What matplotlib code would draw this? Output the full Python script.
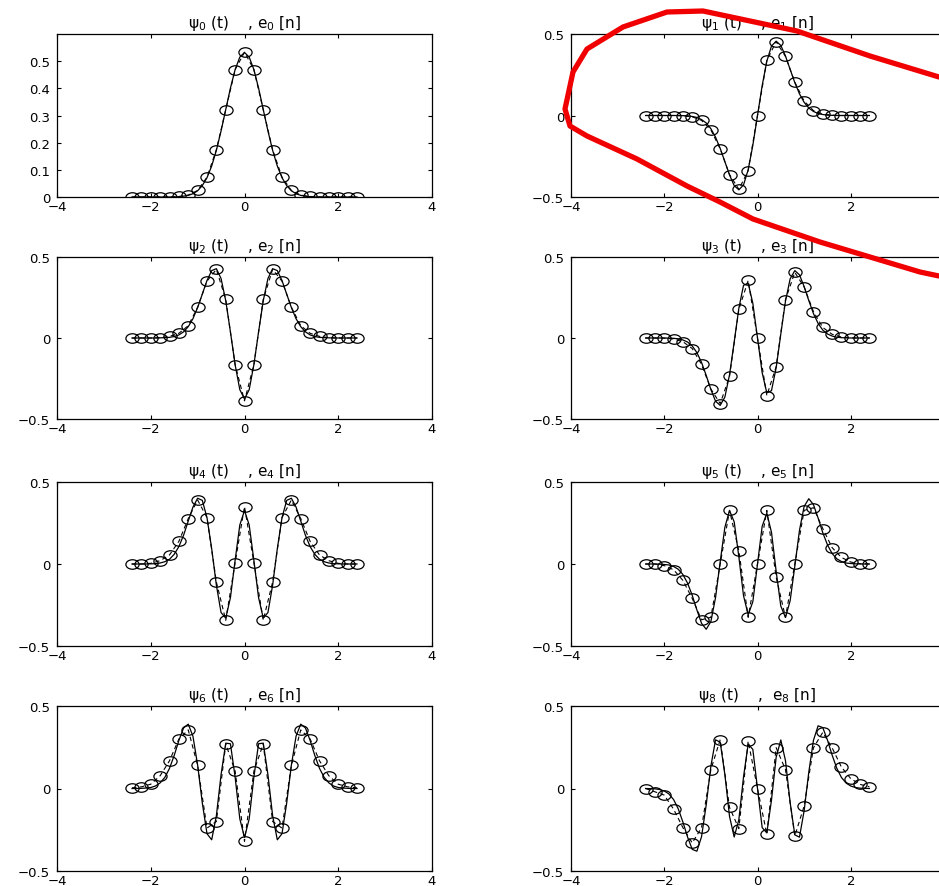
import numpy as np
import matplotlib
matplotlib.use("Agg")
import matplotlib.pyplot as plt
from matplotlib.path import Path
from matplotlib.lines import Line2D

# ==========================================
# DATA
# ==========================================
# continuous Hermite functions, t = -2.4 .. 2.4 step 0.1
t_cont = np.round(np.arange(-24, 25) * 0.1, 2)
# discrete samples e_k[n], t = -2.4 .. 2.4 step 0.2
t_disc = np.round(np.arange(-12, 13) * 0.2, 2)

psi0 = [0, 0, 0, 0, 0, 0, 0, 0, 0, 0, 0.001, 0.003, 0.006, 0.012, 0.023, 0.042, 0.071, 0.114, 0.172, 0.243, 0.322, 0.401, 0.469, 0.515,
        0.532,
        0.515, 0.469, 0.401, 0.322, 0.243, 0.172, 0.114, 0.071, 0.042, 0.023, 0.012, 0.006, 0.003, 0.001, 0, 0, 0, 0, 0, 0, 0, 0, 0, 0]
psi1 = [0, 0, 0, 0, 0, 0, 0, 0, -0.001, -0.002, -0.006, -0.012, -0.025, -0.046, -0.081, -0.133, -0.202, -0.283, -0.365, -0.430, -0.456, -0.426, -0.333, -0.183,
        0,
        0.183, 0.333, 0.426, 0.456, 0.430, 0.365, 0.283, 0.202, 0.133, 0.081, 0.046, 0.025, 0.012, 0.006, 0.002, 0.001, 0, 0, 0, 0, 0, 0, 0, 0]
psi2 = [0, 0, 0, 0, 0, 0, 0.001, 0.002, 0.004, 0.009, 0.019, 0.038, 0.070, 0.119, 0.188, 0.271, 0.355, 0.416, 0.428, 0.367, 0.230, 0.037, -0.165, -0.319,
        -0.376,
        -0.319, -0.165, 0.037, 0.230, 0.367, 0.428, 0.416, 0.355, 0.271, 0.188, 0.119, 0.070, 0.038, 0.019, 0.009, 0.004, 0.002, 0.001, 0, 0, 0, 0, 0, 0]
psi3 = [0, 0, 0, 0, 0, -0.001, -0.002, -0.005, -0.012, -0.025, -0.049, -0.090, -0.151, -0.231, -0.318, -0.390, -0.416, -0.365, -0.227, -0.025, 0.184, 0.325, 0.339, 0.214,
        0,
        -0.214, -0.339, -0.325, -0.184, 0.025, 0.227, 0.365, 0.416, 0.390, 0.318, 0.231, 0.151, 0.090, 0.049, 0.025, 0.012, 0.005, 0.002, 0.001, 0, 0, 0, 0, 0]
psi4 = [0, 0, 0, 0, 0.001, 0.002, 0.006, 0.014, 0.029, 0.059, 0.106, 0.175, 0.262, 0.347, 0.401, 0.388, 0.282, 0.093, -0.129, -0.296, -0.330, -0.205, 0.023, 0.238,
        0.326,
        0.238, 0.023, -0.205, -0.330, -0.296, -0.129, 0.093, 0.282, 0.388, 0.401, 0.347, 0.262, 0.175, 0.106, 0.059, 0.029, 0.014, 0.006, 0.002, 0.001, 0, 0, 0, 0]
psi5 = [0, 0, 0, -0.001, -0.003, -0.006, -0.015, -0.032, -0.064, -0.117, -0.191, -0.280, -0.362, -0.398, -0.351, -0.205, 0.014, 0.224, 0.326, 0.257, 0.044, -0.193, -0.310, -0.230,
        0,
        0.230, 0.310, 0.193, -0.044, -0.257, -0.326, -0.224, -0.014, 0.205, 0.351, 0.398, 0.362, 0.280, 0.191, 0.117, 0.064, 0.032, 0.015, 0.006, 0.003, 0.001, 0, 0, 0]
psi6 = [0, 0, 0.001, 0.003, 0.006, 0.015, 0.034, 0.067, 0.122, 0.200, 0.291, 0.367, 0.390, 0.317, 0.142, -0.088, -0.274, -0.311, -0.165, 0.084, 0.275, 0.271, 0.069, -0.184,
        -0.297,
        -0.184, 0.069, 0.271, 0.275, 0.084, -0.165, -0.311, -0.274, -0.088, 0.142, 0.317, 0.390, 0.367, 0.291, 0.200, 0.122, 0.067, 0.034, 0.015, 0.006, 0.003, 0.001, 0, 0]
psi7 = [0, -0.001, -0.002, -0.006, -0.015, -0.033, -0.067, -0.123, -0.203, -0.294, -0.369, -0.380, -0.292, -0.099, 0.135, 0.295, 0.281, 0.085, -0.169, -0.294, -0.189, 0.070, 0.269, 0.237,
        0,
        -0.237, -0.269, -0.070, 0.189, 0.294, 0.169, -0.085, -0.281, -0.295, -0.135, 0.099, 0.292, 0.380, 0.369, 0.294, 0.203, 0.123, 0.067, 0.033, 0.015, 0.006, 0.002, 0.001, 0]

e0 = [0, 0, 0, 0, 0, 0.002, 0.007, 0.024, 0.073, 0.174, 0.321, 0.469, 0.533,
      0.469, 0.321, 0.174, 0.073, 0.024, 0.007, 0.002, 0, 0, 0, 0, 0]
e1 = [0, 0, 0, 0, -0.002, -0.008, -0.030, -0.088, -0.205, -0.362, -0.453, -0.338, 0,
      0.338, 0.453, 0.362, 0.205, 0.088, 0.030, 0.008, 0.002, 0, 0, 0, 0]
e2 = [0, 0, 0, 0.002, 0.010, 0.029, 0.076, 0.190, 0.351, 0.424, 0.238, -0.165, -0.388,
      -0.165, 0.238, 0.424, 0.351, 0.190, 0.076, 0.029, 0.010, 0.002, 0, 0, 0]
e3 = [0, 0, -0.001, -0.006, -0.023, -0.065, -0.163, -0.315, -0.405, -0.237, 0.177, 0.355, 0,
      -0.355, -0.177, 0.237, 0.405, 0.315, 0.163, 0.065, 0.023, 0.006, 0.001, 0, 0]
e4 = [0, 0, 0.004, 0.020, 0.055, 0.138, 0.277, 0.390, 0.283, -0.110, -0.343, 0.008, 0.350,
      0.008, -0.343, -0.110, 0.283, 0.390, 0.277, 0.138, 0.055, 0.020, 0.004, 0, 0]
e5 = [0, 0, -0.010, -0.035, -0.100, -0.210, -0.340, -0.325, 0, 0.327, 0.080, -0.325, 0,
      0.327, -0.080, -0.325, 0, 0.327, 0.343, 0.216, 0.100, 0.040, 0.012, 0.002, 0]
e6 = [0.004, 0.010, 0.026, 0.077, 0.168, 0.300, 0.355, 0.140, -0.240, -0.200, 0.270, 0.105, -0.320,
      0.105, 0.270, -0.200, -0.240, 0.140, 0.355, 0.300, 0.168, 0.077, 0.026, 0.010, 0.004]
e7 = [0, -0.020, -0.040, -0.125, -0.237, -0.330, -0.237, 0.115, 0.296, -0.115, -0.243, 0.287, 0,
      -0.277, 0.247, 0.115, -0.287, -0.107, 0.247, 0.340, 0.247, 0.130, 0.060, 0.025, 0.010]

titles = ["\u03c8$_0$ (t)    , e$_0$ [n]", "\u03c8$_1$ (t)    , e$_1$ [n]",
          "\u03c8$_2$ (t)    , e$_2$ [n]", "\u03c8$_3$ (t)    , e$_3$ [n]",
          "\u03c8$_4$ (t)    , e$_4$ [n]", "\u03c8$_5$ (t)    , e$_5$ [n]",
          "\u03c8$_6$ (t)    , e$_6$ [n]", "\u03c8$_8$ (t)    ,  e$_8$ [n]"]
continuous = [psi0, psi1, psi2, psi3, psi4, psi5, psi6, psi7]
discrete = [e0, e1, e2, e3, e4, e5, e6, e7]

# red hand-drawn loop (figure pixels, origin top-left)
red_px_x = [939, 870, 797, 703, 667, 623, 587, 573, 565, 570, 587, 637, 687, 720, 753, 820, 870, 920, 939]
red_px_y = [78, 57, 32, 12, 13, 28, 50, 73, 110, 127, 137, 160, 187, 203, 220, 243, 258, 273, 277]

# ==========================================
# PLOTTING
# ==========================================
W, H = 939, 887
fig = plt.figure(figsize=(W / 100, H / 100), dpi=100)

# slightly flattened circle marker (as in the scan)
circ = Path.unit_circle()
oval = Path(circ.vertices * np.array([1.0, 0.72]), circ.codes)

col_left = [(57, 375), (571, 373)]
row_px = [(35, 198), (258, 420), (483, 647), (707, 872)]

for k in range(8):
    r, c = divmod(k, 2)
    x0, w = col_left[c]
    top, bot = row_px[r]
    ax = fig.add_axes([x0 / W, 1 - bot / H, w / W, (bot - top) / H])

    ax.plot(t_cont, continuous[k], color="black", lw=0.9)
    ax.plot(t_disc, discrete[k], color="black", lw=0.8, ls=(0, (4, 3)))
    ax.plot(t_disc, discrete[k], ls="none", marker=oval, ms=9.5,
            mfc="none", mec="black", mew=0.9)

    ax.set_xlim(-4, 4)
    ax.set_xticks([-4, -2, 0, 2, 4])
    if k == 0:
        ax.set_ylim(0, 0.6)
        ax.set_yticks([0, 0.1, 0.2, 0.3, 0.4, 0.5])
        ax.set_yticklabels(["0", "0.1", "0.2", "0.3", "0.4", "0.5"])
    else:
        ax.set_ylim(-0.5, 0.5)
        ax.set_yticks([-0.5, 0, 0.5])
        ax.set_yticklabels(["\u22120.5", "0", "0.5"])
    ax.set_xticklabels(["\u22124", "\u22122", "0", "2", "4"])
    ax.tick_params(direction="in", length=3, width=0.8, top=True, right=True,
                   labelsize=9.5)
    ax.tick_params(axis="x", pad=2)
    ax.tick_params(axis="y", pad=5)
    for s in ax.spines.values():
        s.set_linewidth(0.9)
    ax.set_title(titles[k], fontsize=11, pad=5)

fig.add_artist(Line2D(np.array(red_px_x) / W, 1 - np.array(red_px_y) / H,
                      transform=fig.transFigure, color="#f00000", lw=3.8,
                      solid_capstyle="round", solid_joinstyle="round"))

fig.savefig("out.png", dpi=100)
